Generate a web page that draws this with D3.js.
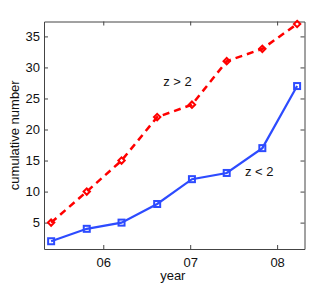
<!DOCTYPE html>
<html>
<head>
<meta charset="utf-8">
<script src="https://cdn.jsdelivr.net/npm/d3@7"></script>
<style>
  body { margin: 0; background: #fff; }
  text { font-family: "Liberation Sans", Arial, sans-serif; }
</style>
</head>
<body>
<div id="chart"></div>
<script>
// data
const years = [5.40, 5.81, 6.21, 6.62, 7.02, 7.42, 7.83, 8.23];
const high = [5, 10, 15, 22, 24, 31, 33, 37];   // z > 2
const low = [2, 4, 5, 8, 12, 13, 17, 27];       // z < 2
const xTicks = [6, 7, 8];
const xTickLabels = ["06", "07", "08"];
const yTicks = [5, 10, 15, 20, 25, 30, 35];

const width = 336, height = 289;
const margin = {top: 21.5, right: 31.5, bottom: 40, left: 44};
const w = width - margin.left - margin.right;
const h = height - margin.top - margin.bottom;

const svg = d3.select("#chart").append("svg")
    .attr("width", width)
    .attr("height", height);

const g = svg.append("g")
    .attr("transform", "translate(" + margin.left + "," + margin.top + ")");

const x = d3.scaleLinear().domain([5.318, 8.315]).range([0, w]);
const y = d3.scaleLinear().domain([0.75, 37.4]).range([h, 0]);

const axisColor = "#444";

// axes, ticks pointing inward
g.append("g")
    .attr("transform", "translate(0," + h + ")")
    .call(d3.axisBottom(x).tickValues(xTicks).tickFormat((d, i) => xTickLabels[i])
      .tickSizeInner(-4).tickSizeOuter(0).tickPadding(9));
g.append("g")
    .call(d3.axisTop(x).tickValues(xTicks).tickFormat("")
      .tickSizeInner(-4).tickSizeOuter(0));
g.append("g")
    .call(d3.axisLeft(y).tickValues(yTicks)
      .tickSizeInner(-4).tickSizeOuter(0).tickPadding(4));
g.append("g")
    .attr("transform", "translate(" + w + ",0)")
    .call(d3.axisRight(y).tickValues(yTicks).tickFormat("")
      .tickSizeInner(-4).tickSizeOuter(0));

g.selectAll(".domain").attr("stroke", axisColor);
g.selectAll(".tick line").attr("stroke", axisColor);
g.selectAll(".tick text").attr("font-size", 13).attr("fill", "#111")
    .style("font-family", "'Liberation Sans', Arial, sans-serif");

// lines
const line = d3.line().x((d, i) => x(years[i])).y(d => y(d));

g.append("path")
    .datum(high)
    .attr("fill", "none")
    .attr("stroke", "#ff0000")
    .attr("stroke-width", 2.5)
    .attr("stroke-dasharray", "7,5")
    .attr("d", line);

g.append("path")
    .datum(low)
    .attr("fill", "none")
    .attr("stroke", "#2d4bff")
    .attr("stroke-width", 2.2)
    .attr("d", line);

// markers
g.selectAll(".dia")
    .data(high)
  .enter().append("path")
    .attr("class", "dia")
    .attr("transform", (d, i) => "translate(" + x(years[i]) + "," + y(d) + ")")
    .attr("d", d3.symbol().type(d3.symbolDiamond2).size(26))
    .attr("fill", "none")
    .attr("stroke", "#ff0000")
    .attr("stroke-width", 2);

g.selectAll(".sq")
    .data(low)
  .enter().append("rect")
    .attr("class", "sq")
    .attr("x", (d, i) => x(years[i]) - 3)
    .attr("y", d => y(d) - 3)
    .attr("width", 6)
    .attr("height", 6)
    .attr("fill", "none")
    .attr("stroke", "#2d4bff")
    .attr("stroke-width", 2);

// annotations
g.append("text")
    .attr("x", x(6.69))
    .attr("y", y(27.0))
    .attr("font-size", 13)
    .attr("fill", "#111")
    .text("z > 2");

g.append("text")
    .attr("x", x(7.63))
    .attr("y", y(12.45))
    .attr("font-size", 13)
    .attr("fill", "#111")
    .text("z < 2");

// axis titles
svg.append("text")
    .attr("x", margin.left + x(6.8))
    .attr("y", 280)
    .attr("text-anchor", "middle")
    .attr("font-size", 13)
    .attr("fill", "#111")
    .text("year");

svg.append("text")
    .attr("transform", "translate(19," + (margin.top + h / 2) + ") rotate(-90)")
    .attr("text-anchor", "middle")
    .attr("font-size", 13)
    .attr("fill", "#111")
    .text("cumulative number");
</script>
</body>
</html>
